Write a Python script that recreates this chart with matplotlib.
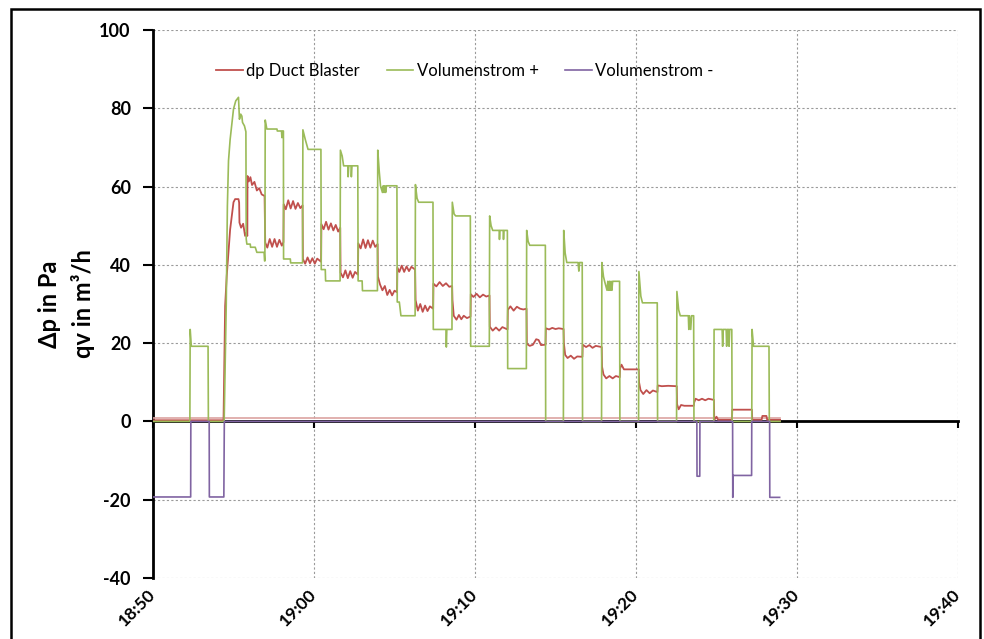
import matplotlib
matplotlib.use("Agg")
import matplotlib.pyplot as plt
from matplotlib.patches import Rectangle

plt.rcParams['font.family'] = ['Lato', 'DejaVu Sans']

# time axis: minutes after 18:50
x_ticks = [0, 10, 20, 30, 40, 50]
x_labels = ['18:50', '19:00', '19:10', '19:20', '19:30', '19:40']
y_ticks = [-40, -20, 0, 20, 40, 60, 80, 100]

# dp Duct Blaster [Pa]
dp_t = [0, 4.38, 4.48, 4.58, 4.79, 5.00, 5.10, 5.31, 5.35, 5.37, 5.47, 5.60, 5.72, 5.80, 5.86,
        5.87, 5.95, 6.05, 6.15, 6.30, 6.45, 6.60, 6.75, 6.93,
        6.97, 7.10, 7.25, 7.40, 7.55, 7.70, 7.85, 8.00, 8.10,
        8.12, 8.25, 8.40, 8.55, 8.70, 8.85, 9.00, 9.15, 9.29,
        9.31, 9.45, 9.60, 9.75, 9.90, 10.05, 10.20, 10.44,
        10.46, 10.60, 10.75, 10.90, 11.05, 11.20, 11.35, 11.50, 11.63,
        11.65, 11.80, 11.95, 12.10, 12.25, 12.40, 12.55, 12.73,
        12.75, 12.90, 13.05, 13.20, 13.35, 13.50, 13.65, 13.80, 13.95,
        13.97, 14.10, 14.25, 14.40, 14.55, 14.70, 14.85, 15.00, 15.16,
        15.18, 15.30, 15.45, 15.60, 15.75, 15.90, 16.05, 16.28,
        16.31, 16.45, 16.60, 16.75, 16.90, 17.05, 17.20, 17.40,
        17.42, 17.60, 17.80, 18.00, 18.20, 18.40, 18.58,
        18.60, 18.68, 18.85, 19.00, 19.15, 19.30, 19.50, 19.72,
        19.74, 19.90, 20.10, 20.30, 20.50, 20.70, 20.90,
        20.92, 21.10, 21.30, 21.50, 21.70, 22.02,
        22.04, 22.20, 22.40, 22.60, 22.80, 23.00, 23.20,
        23.22, 23.40, 23.60, 23.80, 23.95, 24.10, 24.38,
        24.40, 24.60, 24.80, 25.00, 25.20, 25.50,
        25.52, 25.60, 25.75, 25.95, 26.15, 26.35, 26.67,
        26.69, 26.90, 27.10, 27.30, 27.50, 27.87,
        27.89, 27.98, 28.15, 28.35, 28.55, 28.75, 28.99,
        29.01, 29.10, 29.25, 29.60, 30.17,
        30.19, 30.28, 30.45, 30.65, 30.85, 31.05, 31.33,
        31.35, 31.60, 32.00, 32.53,
        32.55, 32.65, 32.80, 33.00, 33.59,
        33.61, 33.70, 33.90, 34.10, 34.30, 34.50, 34.84,
        34.86, 35.00, 35.10, 35.96,
        35.98, 37.20,
        37.22, 37.80, 37.85, 38.10, 38.15, 38.95]
dp_v = [0.3, 0.3, 29.5, 37.2, 49.0, 56.0, 56.8, 56.8, 55.9, 50.8, 49.5, 50.5, 47.4, 48.2, 47.4,
        62.7, 61.3, 62.4, 60.4, 61.2, 59.0, 59.6, 58.0, 57.6,
        45.7, 44.4, 46.6, 44.6, 46.6, 44.6, 46.4, 44.9, 45.8,
        55.5, 54.2, 56.5, 54.4, 56.3, 54.3, 55.8, 54.5, 55.2,
        41.5, 40.3, 41.9, 40.4, 41.7, 40.3, 41.6, 40.8,
        50.4, 49.1, 51.0, 49.0, 50.6, 48.8, 50.2, 48.5, 49.5,
        38.0, 36.8, 38.6, 36.6, 38.4, 36.7, 38.2, 37.5,
        45.5, 44.2, 46.5, 44.3, 46.3, 44.4, 46.2, 44.6, 45.3,
        37.0, 35.0, 33.5, 34.6, 32.3, 33.6, 32.2, 33.4, 33.0,
        39.3, 38.2, 39.8, 38.2, 39.6, 38.4, 39.5, 38.8,
        31.0, 28.3, 30.0, 28.0, 29.6, 28.2, 29.4, 28.8,
        35.2, 34.5, 35.6, 34.6, 35.3, 34.4, 34.6,
        31.0, 27.0, 26.0, 27.2, 26.1, 27.0, 26.4, 26.8,
        32.5, 31.8, 32.6, 31.7, 32.4, 31.9, 32.2,
        24.2, 23.2, 24.0, 23.2, 24.1, 23.5,
        28.5, 29.4, 28.3, 29.3, 28.8, 28.6, 28.8,
        19.8, 19.3, 19.6, 21.0, 20.8, 19.5, 19.6,
        23.8, 23.5, 23.9, 23.6, 23.8, 23.6,
        20.0, 17.0, 16.2, 16.8, 16.0, 16.6, 16.5,
        19.6, 19.0, 19.5, 18.8, 19.3, 19.0,
        14.0, 12.0, 11.0, 11.6, 11.0, 11.6, 11.3,
        13.5, 14.5, 13.3, 13.3, 13.3,
        10.0, 8.0, 7.0, 8.0, 7.2, 7.9, 7.5,
        9.2, 9.0, 9.1, 9.0,
        4.4, 3.1, 4.2, 4.0, 4.0,
        4.8, 5.8, 5.4, 5.8, 5.4, 5.8, 5.5,
        0.4, 1.2, 0.4, 0.4,
        3.0, 3.0,
        0.4, 0.4, 1.4, 1.4, 0.4, 0.4]

# Volumenstrom + [m3/h]
vp_t = [0, 2.29, 2.31, 2.38, 3.42, 3.44, 4.42, 4.55, 4.62, 4.69, 4.79, 5.00, 5.14, 5.31, 5.37, 5.45, 5.52, 5.56, 5.68, 5.77,
        5.79, 5.83, 6.04, 6.06, 6.35, 6.45, 6.90, 6.93, 6.95,
        6.97, 7.07, 7.70, 7.72, 7.98, 8.01, 8.05, 8.10,
        8.11, 8.53, 8.55, 9.29,
        9.31, 9.46, 9.63, 10.43,
        10.45, 10.70, 10.72, 11.62,
        11.64, 11.75, 11.84, 12.10, 12.12, 12.16, 12.30, 12.32, 12.36, 12.72,
        12.74, 12.99, 13.01, 13.94,
        13.96, 14.05, 14.13, 14.25, 14.30, 14.35, 14.40, 14.45, 14.50, 15.15,
        15.17, 15.30, 15.40, 16.28,
        16.30, 16.40, 16.50, 17.39,
        17.41, 18.20, 18.22, 18.25, 18.57,
        18.59, 18.70, 18.80, 19.71,
        19.73, 20.89,
        20.91, 21.00, 21.10, 21.50, 21.52, 21.55, 21.75, 21.77, 21.80, 22.01,
        22.03, 23.19,
        23.21, 23.30, 23.40, 24.37,
        24.39, 25.49,
        25.51, 25.60, 25.70, 26.40, 26.45, 26.50, 26.66,
        26.68, 27.86,
        27.88, 27.98, 28.05, 28.20, 28.25, 28.30, 28.35, 28.40, 28.45, 28.50, 28.55, 28.98,
        29.00, 30.16,
        30.18, 30.30, 30.40, 31.32,
        31.34, 32.52,
        32.54, 32.65, 32.75, 33.25, 33.28, 33.32, 33.40, 33.45, 33.58,
        33.60, 34.83,
        34.85, 35.35, 35.38, 35.42, 35.60, 35.63, 35.67, 35.75, 35.78, 35.82, 35.95,
        35.97, 37.19,
        37.21, 37.30, 38.26,
        38.28, 38.95]
vp_v = [0, 0, 23.5, 19.2, 19.2, 0, 0, 30.0, 55.0, 66.6, 72.0, 79.8, 81.9, 82.8, 77.2, 78.5, 78.0, 76.4, 75.5, 74.0,
        46.6, 45.3, 45.3, 44.5, 44.5, 43.2, 43.2, 41.0, 41.0,
        77.0, 74.7, 74.7, 74.2, 74.2, 72.5, 74.2, 74.2,
        41.5, 41.5, 40.5, 40.5,
        74.5, 72.0, 69.5, 69.5,
        38.8, 38.8, 35.9, 35.9,
        69.3, 67.8, 65.3, 65.3, 62.5, 65.3, 65.3, 62.5, 65.3, 65.3,
        35.9, 35.9, 33.4, 33.4,
        69.3, 64.0, 60.2, 58.5, 60.2, 58.5, 60.2, 58.5, 60.2, 60.2,
        30.5, 30.5, 27.0, 27.0,
        60.5, 57.0, 56.0, 56.0,
        23.5, 23.5, 19.0, 23.5, 23.5,
        56.0, 53.0, 52.5, 52.5,
        19.2, 19.2,
        52.5, 50.0, 48.8, 48.8, 46.5, 48.8, 48.8, 46.5, 48.8, 48.8,
        13.5, 13.5,
        48.8, 46.0, 45.0, 45.0,
        0, 0,
        48.8, 43.0, 40.6, 40.6, 38.4, 40.6, 40.6,
        0, 0,
        40.6, 37.0, 35.8, 33.5, 35.8, 33.5, 35.8, 33.5, 35.8, 33.5, 35.8, 35.8,
        0, 0,
        38.3, 32.0, 30.3, 30.3,
        0, 0,
        33.2, 28.5, 27.0, 27.0, 23.5, 27.0, 23.5, 27.0, 27.0,
        0, 0,
        23.5, 23.5, 19.2, 23.5, 23.5, 19.2, 23.5, 23.5, 19.2, 23.5, 23.5,
        0, 0,
        23.5, 19.2, 19.2,
        0, 0]

# Volumenstrom - [m3/h]
vm_t = [0, 2.34, 2.35, 3.49, 3.50, 4.40, 4.43, 33.78, 33.79, 33.96, 33.97,
        36.00, 36.01, 36.03, 37.18, 37.19, 38.30, 38.31, 38.92]
vm_v = [-19.3, -19.3, 0, 0, -19.3, -19.3, 0, 0, -14.0, -14.0, 0,
        0, -19.4, -13.8, -13.8, 0, 0, -19.4, -19.4]

# reference level (not in legend)
ref_t = [0, 38.95]
ref_v = [1.0, 1.0]

fig = plt.figure(figsize=(9.84, 6.39), dpi=100)
ax = fig.add_axes([153/984, 61/639, 805/984, 548/639])

ax.plot(ref_t, ref_v, color='#dca3a1', lw=1.2, zorder=3)
ax.plot(dp_t, dp_v, color='#c0504d', lw=1.3, label='dp Duct Blaster', zorder=3)
ax.plot(vp_t, vp_v, color='#9bbb59', lw=1.2, label='Volumenstrom +', zorder=3)
ax.plot(vm_t, vm_v, color='#8064a2', lw=1.2, label='Volumenstrom -', zorder=3)

ax.set_xlim(0, 50)
ax.set_ylim(-40, 100)

ax.grid(True, linestyle=(0, (2, 2)), color='#9a9a9a', lw=0.8)
ax.set_axisbelow(True)

for s in ['top', 'right']:
    ax.spines[s].set_visible(False)
ax.spines['left'].set_linewidth(2)
ax.spines['bottom'].set_position(('data', 0))
ax.spines['bottom'].set_linewidth(2)
ax.spines['bottom'].set_zorder(1)

ax.set_yticks(y_ticks)
ax.set_yticklabels([str(v) for v in y_ticks], fontweight='bold', fontsize=13)
ax.tick_params(axis='y', direction='out', length=7, width=1.5, pad=9)
ax.set_xticks(x_ticks)
ax.tick_params(axis='x', direction='out', length=5, width=1.5, labelbottom=False)

sec = ax.secondary_xaxis('bottom')
sec.set_xticks(x_ticks)
sec.set_xticklabels(x_labels, fontweight='bold', fontsize=12.5, rotation=45,
                    ha='right', va='center', rotation_mode='anchor')
sec.tick_params(length=0, pad=10)
sec.spines['bottom'].set_visible(False)

ax.set_ylabel('\u0394p in Pa\nqv in m\u00b3/h', fontweight='bold', fontsize=17, labelpad=3,
              linespacing=1.5)

ax.legend(loc='center left', bbox_to_anchor=(0.06, (578 - 71) / 548), ncol=3, frameon=False,
          fontsize=12, handlelength=1.6, handletextpad=0.2, columnspacing=1.6)

fig.add_artist(Rectangle((11/984, -0.05), (980 - 11)/984, 1 - 9/639 + 0.05,
                         transform=fig.transFigure, fill=False, lw=1.8, ec='black'))

fig.savefig('out.png', dpi=100)
